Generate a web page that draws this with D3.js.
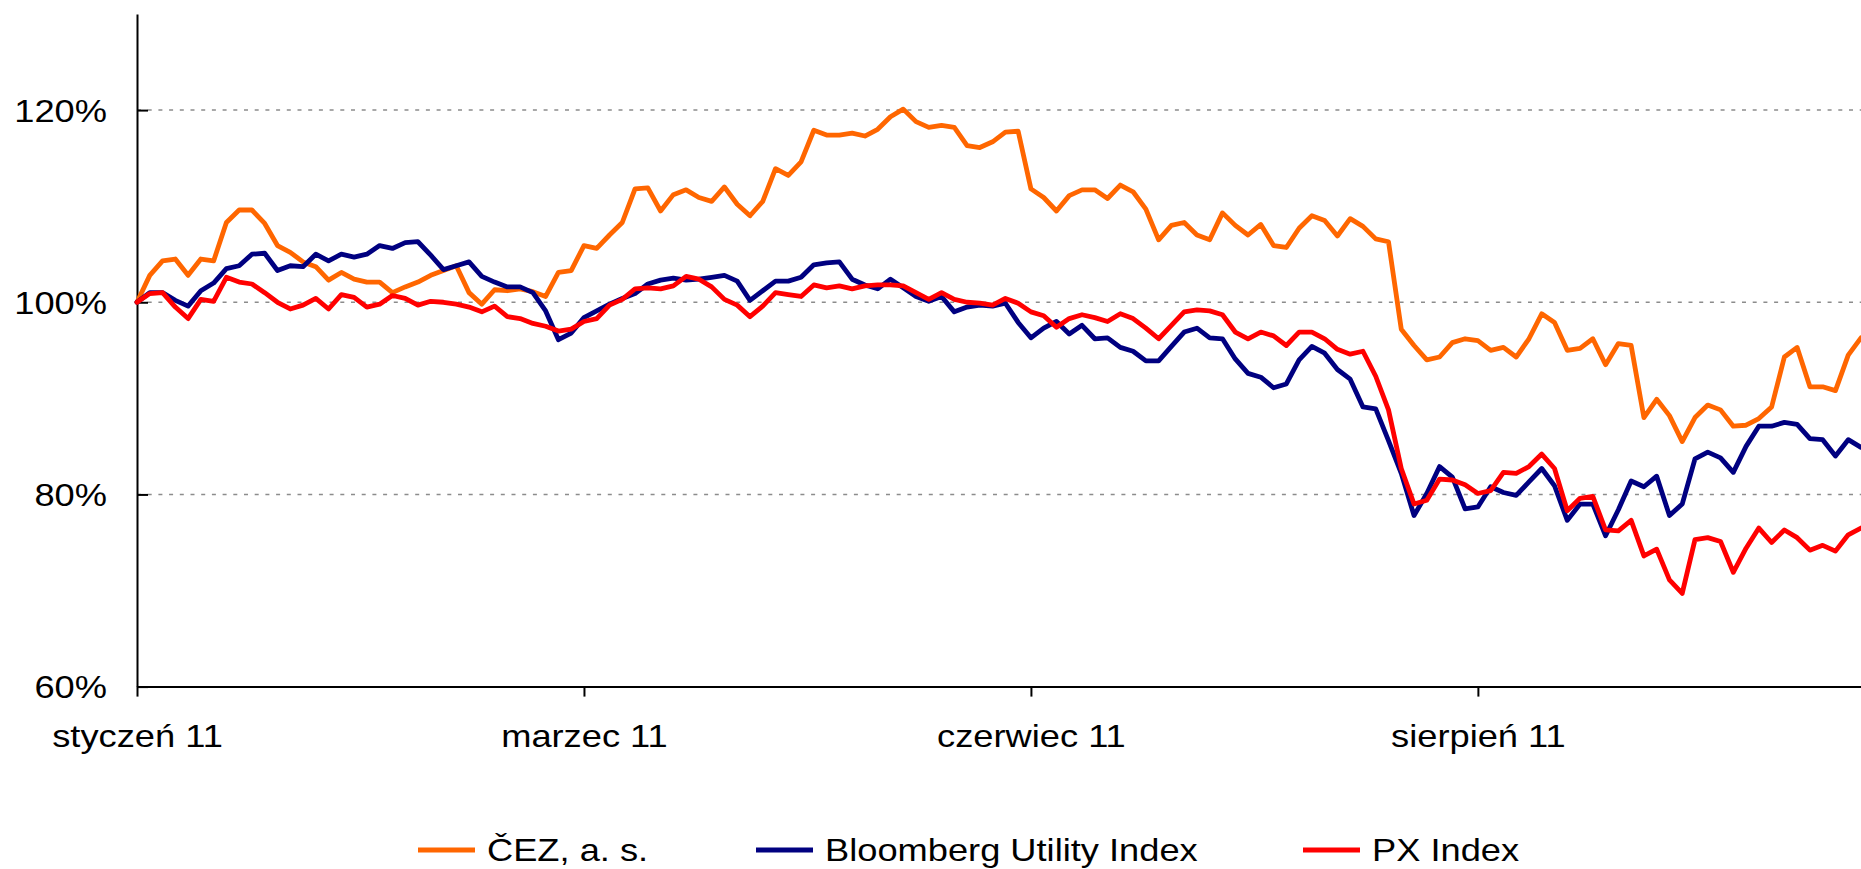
<!DOCTYPE html>
<html>
<head>
<meta charset="utf-8">
<script src="https://cdn.jsdelivr.net/npm/d3@7"></script>
<style>
  body { margin: 0; background: #fff; overflow: hidden; }
  svg text { font-family: "Liberation Sans", Arial, sans-serif; fill: #000; }
</style>
</head>
<body>
<script>
// values in %, one point per step
var cez = [
  100, 102.8, 104.3, 104.5, 102.8, 104.5, 104.3, 108.3, 109.6, 109.6,
  108.2, 105.9, 105.2, 104.2, 103.7, 102.3, 103.1, 102.4, 102.1, 102.1,
  101.0, 101.6, 102.1, 102.8, 103.3, 103.8, 101.0, 99.8, 101.3, 101.2,
  101.4, 101.1, 100.6, 103.1, 103.3, 105.9, 105.6, 107.0, 108.3, 111.8,
  111.9, 109.5, 111.2, 111.7, 110.9, 110.5, 112.0, 110.2, 109.0, 110.5,
  113.9, 113.2, 114.6, 117.9, 117.4, 117.4, 117.6, 117.3, 118.0, 119.3,
  120.1, 118.8, 118.2, 118.4, 118.2, 116.3, 116.1, 116.7, 117.7, 117.8,
  111.8, 110.9, 109.5, 111.1, 111.7, 111.7, 110.8, 112.2, 111.5, 109.7,
  106.5, 108.0, 108.3, 107.0, 106.5, 109.3, 108.0, 107.0, 108.1, 105.9,
  105.7, 107.7, 109.0, 108.5, 106.9, 108.7, 107.9, 106.6, 106.3, 97.2,
  95.5, 94.0, 94.3, 95.8, 96.2, 96.0, 95.0, 95.3, 94.3, 96.2,
  98.8, 97.9, 95.0, 95.2, 96.2, 93.5, 95.7, 95.5, 88.0, 89.9,
  88.2, 85.5, 88.0, 89.3, 88.8, 87.1, 87.2, 87.9, 89.1, 94.3,
  95.3, 91.2, 91.2, 90.8, 94.5, 96.3
];
var bloomberg = [
  100, 101.0, 101.0, 100.2, 99.6, 101.2, 102.0, 103.5, 103.8, 105.0,
  105.1, 103.3, 103.8, 103.7, 105.0, 104.3, 105.0, 104.7, 105.0, 105.9,
  105.6, 106.2, 106.3, 104.9, 103.4, 103.8, 104.2, 102.7, 102.1, 101.6,
  101.6, 101.0, 99.1, 96.1, 96.8, 98.4, 99.1, 99.8, 100.4, 100.9,
  101.9, 102.3, 102.5, 102.3, 102.4, 102.6, 102.8, 102.2, 100.2, 101.2,
  102.2, 102.2, 102.6, 103.9, 104.1, 104.2, 102.4, 101.8, 101.4, 102.4,
  101.5, 100.6, 100.1, 100.6, 99.0, 99.5, 99.7, 99.6, 99.9, 97.9,
  96.3, 97.3, 98.0, 96.7, 97.6, 96.2, 96.3, 95.3, 94.9, 93.9,
  93.9, 95.4, 96.9, 97.3, 96.3, 96.2, 94.1, 92.6, 92.2, 91.1,
  91.5, 94.0, 95.4, 94.7, 93.0, 92.0, 89.1, 88.9, 85.6, 82.2,
  77.8, 80.1, 82.9, 81.8, 78.5, 78.7, 80.8, 80.2, 79.9, 81.3,
  82.7, 80.9, 77.3, 79.0, 79.0, 75.7, 78.4, 81.4, 80.8, 81.9,
  77.8, 79.0, 83.7, 84.4, 83.8, 82.3, 85.0, 87.1, 87.1, 87.5,
  87.3, 85.8, 85.7, 84.0, 85.7, 84.9
];
var px = [
  100, 100.9, 101.0, 99.5, 98.3, 100.3, 100.1, 102.6, 102.1, 101.9,
  101.0, 100.0, 99.3, 99.7, 100.4, 99.3, 100.8, 100.5, 99.5, 99.8,
  100.7, 100.4, 99.7, 100.1, 100.0, 99.8, 99.5, 99.0, 99.6, 98.5,
  98.3, 97.8, 97.5, 97.0, 97.2, 98.0, 98.3, 99.7, 100.3, 101.4,
  101.5, 101.4, 101.7, 102.7, 102.4, 101.6, 100.3, 99.7, 98.5, 99.6,
  101.0, 100.8, 100.6, 101.8, 101.5, 101.7, 101.4, 101.7, 101.8, 101.8,
  101.7, 101.0, 100.3, 101.0, 100.3, 100.0, 99.9, 99.7, 100.4, 99.9,
  99.0, 98.6, 97.4, 98.3, 98.7, 98.4, 98.0, 98.8, 98.3, 97.3,
  96.2, 97.6, 99.0, 99.2, 99.1, 98.7, 96.9, 96.2, 96.9, 96.5,
  95.5, 96.9, 96.9, 96.2, 95.1, 94.6, 94.9, 92.3, 88.8, 82.7,
  79.0, 79.4, 81.6, 81.5, 81.0, 80.1, 80.4, 82.3, 82.2, 82.9,
  84.2, 82.7, 78.3, 79.6, 79.8, 76.3, 76.2, 77.3, 73.6, 74.3,
  71.1, 69.7, 75.3, 75.5, 75.1, 71.9, 74.4, 76.5, 75.0, 76.3,
  75.5, 74.2, 74.7, 74.1, 75.8, 76.5
];

var monthLabels = ["styczeń 11", "marzec 11", "czerwiec 11", "sierpień 11"];
var monthIndex = [0, 35, 70, 105];
var yTicks = [60, 80, 100, 120];
var gridValues = [80, 100, 120];
var seriesNames = ["ČEZ, a. s.", "Bloomberg Utility Index", "PX Index"];
var seriesColors = ["#ff6600", "#000080", "#ff0000"];

var width = 1861, height = 869;
var stretch = 1.17; // the original text is drawn a bit wide

var svg = d3.select("body").append("svg")
    .attr("width", width)
    .attr("height", height);

var x = d3.scaleLinear()
    .domain([0, cez.length - 1])
    .range([137, 1861]);

var y = d3.scaleLinear()
    .domain([60, 130])
    .range([686.6, 14]);

// dotted grid
svg.append("g").selectAll("line")
    .data(gridValues).enter()
    .append("line")
    .attr("x1", 137)
    .attr("x2", width)
    .attr("y1", function(d){ return y(d); })
    .attr("y2", function(d){ return y(d); })
    .attr("stroke", "#8c8c8c")
    .attr("stroke-width", 1.5)
    .attr("stroke-dasharray", "4,6.7");

// y axis, ticks point inward
var yAxis = svg.append("g")
    .attr("transform", "translate(137,0)")
    .call(d3.axisLeft(y)
        .tickValues(yTicks)
        .tickSizeInner(-11)
        .tickSizeOuter(0)
        .tickPadding(30)
        .tickFormat(function(d){ return d + "%"; }));

yAxis.select(".domain").attr("stroke", "#000").attr("stroke-width", 2);
yAxis.selectAll(".tick line").attr("stroke", "#000").attr("stroke-width", 2);
yAxis.selectAll(".tick text")
    .attr("font-size", 31)
    .attr("x", -30 / stretch)
    .attr("dy", "0.36em")
    .attr("transform", "scale(" + stretch + ",1)");

// x axis
var xAxis = svg.append("g")
    .attr("transform", "translate(0," + y(60) + ")")
    .call(d3.axisBottom(x)
        .tickValues(monthIndex)
        .tickSizeInner(10)
        .tickSizeOuter(0)
        .tickFormat(function(d, i){ return monthLabels[i]; }));

xAxis.select(".domain").attr("stroke", "#000").attr("stroke-width", 2);
xAxis.selectAll(".tick line").attr("stroke", "#000").attr("stroke-width", 2);
xAxis.selectAll(".tick text")
    .attr("font-size", 31)
    .attr("y", 60)
    .attr("dy", 0)
    .attr("transform", "scale(" + stretch + ",1)");

// the three series
var line = d3.line()
    .x(function(d, i){ return x(i); })
    .y(function(d){ return y(d); });

[cez, bloomberg, px].forEach(function(s, k){
    svg.append("path")
        .datum(s)
        .attr("fill", "none")
        .attr("stroke", seriesColors[k])
        .attr("stroke-width", 4.8)
        .attr("stroke-linejoin", "round")
        .attr("stroke-linecap", "round")
        .attr("d", line);
});

// legend
var legendX = [418, 756, 1303];
var legend = svg.append("g").selectAll("g")
    .data(seriesNames).enter()
    .append("g")
    .attr("transform", function(d, i){ return "translate(" + legendX[i] + ",850)"; });

legend.append("line")
    .attr("x1", 0).attr("x2", 57)
    .attr("y1", 0).attr("y2", 0)
    .attr("stroke", function(d, i){ return seriesColors[i]; })
    .attr("stroke-width", 5);

legend.append("text")
    .attr("font-size", 31)
    .attr("transform", "translate(69,11) scale(" + stretch + ",1)")
    .text(function(d){ return d; });
</script>
</body>
</html>
